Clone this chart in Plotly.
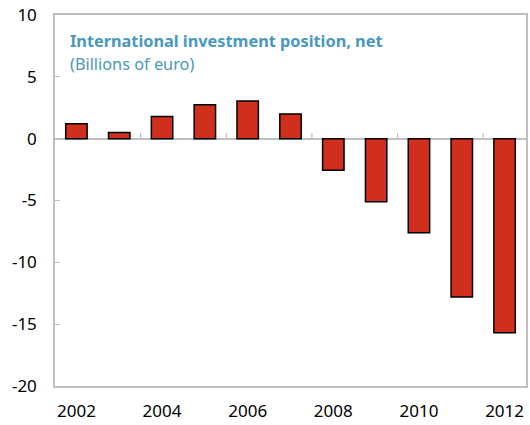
import plotly.graph_objects as go

years = [2002, 2003, 2004, 2005, 2006, 2007, 2008, 2009, 2010, 2011, 2012]
values = [1.2, 0.5, 1.8, 2.75, 3.05, 2.0, -2.55, -5.1, -7.6, -12.8, -15.7]
y_ticks = [-20, -15, -10, -5, 0, 5, 10]
x_ticks = [2002, 2004, 2006, 2008, 2010, 2012]

axis_col = "#BFBFBF"
font_fam = "Noto Sans, Liberation Sans, sans-serif"

fig = go.Figure()
fig.add_trace(go.Bar(
    x=years, y=values, width=0.5,
    marker=dict(color="#D12F1E", line=dict(color="#000000", width=1.5)),
))

# small upward ticks on the zero line at every second category boundary
for b in [2003.5, 2005.5, 2007.5, 2009.5, 2011.5]:
    fig.add_shape(type="line", xref="x", yref="y", x0=b, x1=b, y0=0, y1=0.45,
                  line=dict(color=axis_col, width=1.2), layer="below")

fig.update_layout(
    width=530, height=425,
    margin=dict(l=55, r=4, t=15, b=39, autoexpand=False),
    paper_bgcolor="white", plot_bgcolor="white",
    showlegend=False,
    font=dict(family=font_fam, size=17, color="#000000"),
    xaxis=dict(
        range=[2001.5, 2012.5], tickvals=x_ticks, ticktext=[str(v) for v in x_ticks],
        showline=True, mirror=True, linecolor=axis_col, linewidth=1.5,
        showgrid=False, zeroline=False, ticks="", ticklabelstandoff=9,
        tickfont=dict(size=17), automargin=False,
    ),
    yaxis=dict(
        range=[-20, 10], tickvals=y_ticks, ticktext=[str(v) for v in y_ticks],
        showline=True, mirror=True, linecolor=axis_col, linewidth=1.5,
        showgrid=False, zeroline=True, zerolinecolor=axis_col, zerolinewidth=1.5,
        ticks="inside", ticklen=5, tickcolor=axis_col, ticklabelstandoff=13,
        tickfont=dict(size=17), automargin=False,
    ),
    annotations=[
        dict(text="<b>International investment position, net</b>", xref="paper", yref="paper",
             x=0.027, y=0.93, xanchor="left", yanchor="middle", showarrow=False,
             font=dict(size=16.3, color="#4A98BD", family=font_fam)),
        dict(text="(Billions of euro)", xref="paper", yref="paper",
             x=0.027, y=0.867, xanchor="left", yanchor="middle", showarrow=False,
             font=dict(size=16.3, color="#4A98BD", family=font_fam)),
    ],
)

fig.write_html("out.html", config={"displayModeBar": False},
               post_script="document.body.style.margin='0';document.body.style.overflow='hidden';")
